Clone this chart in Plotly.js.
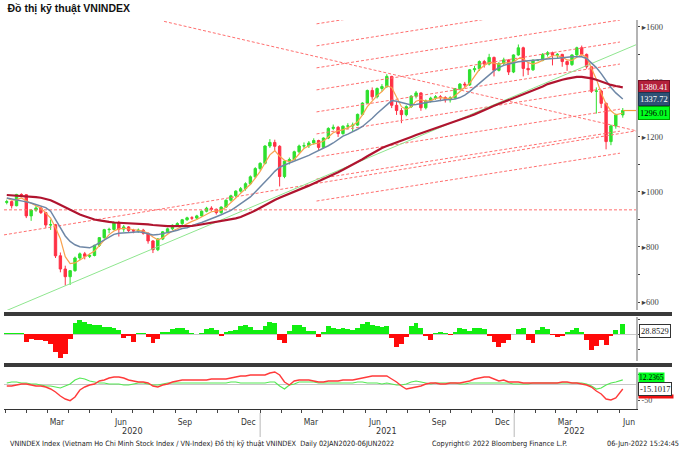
<!DOCTYPE html>
<html><head><meta charset="utf-8">
<script src="https://cdn.plot.ly/plotly-3.0.1.min.js"></script>
<style>html,body{margin:0;padding:0;background:#fff}#c{width:686px;height:456px}</style>
</head><body><div id="c"></div>
<script>
// ---- weekly sample dates (last = 06JUN2022) ----
const dates = [
'2020-01-03','2020-01-10','2020-01-17','2020-01-24','2020-01-31','2020-02-07','2020-02-14','2020-02-21','2020-02-28','2020-03-06',
'2020-03-13','2020-03-20','2020-03-27','2020-04-03','2020-04-10','2020-04-17','2020-04-24','2020-05-01','2020-05-08','2020-05-15',
'2020-05-22','2020-05-29','2020-06-05','2020-06-12','2020-06-19','2020-06-26','2020-07-03','2020-07-10','2020-07-17','2020-07-24',
'2020-07-31','2020-08-07','2020-08-14','2020-08-21','2020-08-28','2020-09-04','2020-09-11','2020-09-18','2020-09-25','2020-10-02',
'2020-10-09','2020-10-16','2020-10-23','2020-10-30','2020-11-06','2020-11-13','2020-11-20','2020-11-27','2020-12-04','2020-12-11',
'2020-12-18','2020-12-25','2021-01-01','2021-01-08','2021-01-15','2021-01-22','2021-01-29','2021-02-05','2021-02-12','2021-02-19',
'2021-02-26','2021-03-05','2021-03-12','2021-03-19','2021-03-26','2021-04-02','2021-04-09','2021-04-16','2021-04-23','2021-04-30',
'2021-05-07','2021-05-14','2021-05-21','2021-05-28','2021-06-04','2021-06-11','2021-06-18','2021-06-25','2021-07-02','2021-07-09',
'2021-07-16','2021-07-23','2021-07-30','2021-08-06','2021-08-13','2021-08-20','2021-08-27','2021-09-03','2021-09-10','2021-09-17',
'2021-09-24','2021-10-01','2021-10-08','2021-10-15','2021-10-22','2021-10-29','2021-11-05','2021-11-12','2021-11-19','2021-11-26',
'2021-12-03','2021-12-10','2021-12-17','2021-12-24','2021-12-31','2022-01-07','2022-01-14','2022-01-21','2022-01-28','2022-02-04',
'2022-02-11','2022-02-18','2022-02-25','2022-03-04','2022-03-11','2022-03-18','2022-03-25','2022-04-01','2022-04-08','2022-04-15',
'2022-04-22','2022-04-29','2022-05-06','2022-05-13','2022-05-20','2022-05-27','2022-06-06'];

const openP = [
962,965,950,991,990,913,934,942,925,880, 881,768,720,692,714,760,775,766,769,806,
834,863,864,887,865,873,860,858,861,850, 822,790,829,855,866,879,885,899,906,905,
913,930,941,937,925,945,970,986,1003,1012, 1030,1055,1085,1104,1167,1180,1166,1056,1112,1118,
1146,1167,1168,1178,1187,1162,1196,1231,1235,1212, 1239,1240,1243,1282,1323,1369,1346,1376,1383,1420,
1315,1296,1281,1310,1348,1360,1306,1331,1341,1346, 1343,1335,1342,1375,1392,1389,1444,1448,1474,1465,
1489,1442,1467,1480,1436,1498,1524,1449,1444,1479, 1479,1500,1506,1497,1500,1474,1463,1498,1524,1500,
1455,1366,1367,1322,1183,1240,1280];
const highP = [
972,968,993,995,992,938,950,947,928,900, 884,780,732,716,765,780,782,776,808,836,
866,870,893,895,880,876,866,867,866,853, 825,832,858,870,882,890,902,910,912,917,
933,946,948,940,948,973,990,1006,1018,1035, 1060,1090,1108,1170,1192,1190,1170,1116,1125,1150,
1172,1180,1185,1195,1190,1198,1235,1245,1240,1242, 1250,1252,1285,1326,1372,1380,1380,1392,1428,1422,
1330,1305,1315,1352,1367,1362,1336,1346,1352,1352, 1348,1348,1378,1396,1400,1447,1458,1478,1480,1502,
1492,1472,1488,1482,1500,1536,1528,1470,1482,1483, 1505,1512,1510,1505,1502,1478,1500,1528,1532,1503,
1458,1380,1372,1325,1245,1285,1305];
const lowP = [
955,940,948,982,905,895,928,920,870,862, 760,708,660,662,710,752,755,760,766,800,
830,850,860,838,855,852,850,852,845,812, 778,785,825,850,862,875,880,895,898,900,
910,926,930,918,920,942,965,980,998,1005, 1025,1050,1078,1100,1160,1150,1020,1050,1100,1115,
1140,1158,1160,1172,1150,1158,1192,1225,1200,1208, 1228,1218,1240,1278,1320,1335,1340,1365,1378,1305,
1280,1250,1275,1305,1340,1295,1300,1325,1335,1330, 1325,1325,1338,1370,1380,1385,1435,1440,1452,1460,
1420,1438,1460,1425,1432,1495,1420,1425,1440,1475, 1475,1492,1460,1485,1455,1440,1458,1495,1495,1448,
1360,1285,1305,1155,1170,1230,1270];
const closeP = [
965,950,991,990,913,934,942,925,880,881, 768,720,692,714,760,775,766,769,806,834,
863,864,887,865,873,860,858,861,850,822, 790,829,855,866,879,885,899,906,905,913,
930,941,937,925,945,970,986,1003,1012,1030, 1055,1085,1104,1167,1180,1166,1056,1112,1118,1146,
1167,1168,1178,1187,1162,1196,1231,1235,1212,1239, 1240,1243,1282,1323,1369,1346,1376,1383,1420,1315,
1296,1281,1310,1348,1360,1306,1331,1341,1346,1343, 1335,1342,1375,1392,1389,1444,1448,1474,1465,1489,
1442,1467,1480,1436,1498,1524,1449,1444,1479,1479, 1500,1506,1497,1500,1474,1463,1498,1524,1500,1455,
1366,1367,1322,1183,1240,1280,1296.01];

// moving averages
const maLong = [
989,988,987,986,985,983,981,979,975,970, 962,953,943,935,926,918,912,906,900,897,
893,891,889,888,888,888,887,886,884,882, 880,878,877,876,876,876,876,876,877,879,
882,885,887,890,893,896,899,904,909,916, 924,933,943,952,962,971,979,986,993,1000,
1007,1015,1023,1031,1039,1047,1054,1063,1072,1081, 1090,1099,1108,1119,1130,1141,1150,1160,1167,1173,
1180,1187,1194,1200,1207,1213,1219,1225,1231,1237, 1244,1250,1256,1262,1268,1275,1282,1289,1297,1305,
1313,1320,1327,1334,1340,1347,1355,1362,1370,1376, 1383,1392,1398,1403,1408,1412,1415,1418,1418,1416,
1413,1408,1402,1394,1389,1385,1380.41];
const maMid = [
978,975,972,969,964,960,955,950,943,930, 900,868,840,820,808,801,798,797,805,815,
828,838,846,850,852,852,854,855,853,848, 844,845,848,851,856,861,867,870,878,884,
889,897,904,910,917,925,933,945,958,970, 982,1000,1018,1035,1055,1075,1090,1098,1105,1112,
1118,1126,1133,1142,1150,1158,1168,1178,1190,1203, 1210,1218,1228,1238,1252,1268,1285,1300,1318,1332,
1330,1325,1320,1316,1318,1322,1326,1328,1330,1333, 1335,1336,1338,1343,1352,1365,1380,1395,1412,1428,
1440,1452,1460,1465,1470,1473,1475,1477,1479,1480, 1481,1483,1485,1486,1488,1490,1491,1491,1491,1485,
1470,1452,1430,1405,1380,1360,1337.72];
const maShort = [
978,970,972,978,968,958,950,942,925,905, 870,830,765,740,742,752,765,772,785,805,
825,845,858,866,868,866,862,860,858,850, 836,826,833,846,858,866,875,886,893,900,
910,920,928,930,933,945,960,978,995,1010, 1028,1050,1075,1105,1135,1150,1130,1115,1110,1118,
1140,1158,1168,1175,1178,1185,1200,1215,1222,1226, 1234,1242,1255,1280,1310,1332,1350,1365,1385,1380,
1345,1310,1300,1310,1330,1335,1330,1332,1340,1343, 1341,1340,1350,1365,1378,1395,1420,1445,1460,1470,
1468,1465,1468,1470,1472,1485,1485,1470,1465,1470, 1478,1488,1495,1495,1490,1480,1478,1490,1500,1490,
1450,1410,1360,1320,1295,1280,1287];

// lower panel 1: histogram oscillator
const histVals = [
3,4,4,2,-24,-15,-18,-17,-20,-30, -54,-72,-60,-15,33,42,36,30,27,27,
21,21,18,12,-12,-6,-24,3,3,-9, -27,-15,6,6,15,18,18,12,3,1,
3,15,18,12,-6,6,9,12,24,27, 21,12,12,24,36,33,-18,-27,9,27,
27,21,9,9,-9,6,24,18,15,18, 15,12,18,30,36,27,24,21,24,-12,
-39,-30,-9,24,33,18,-6,-18,3,6, 3,-3,6,18,15,9,18,18,15,-6,
-24,-39,-27,-18,0,15,18,-18,-27,12, 21,15,-3,-9,-6,6,12,18,6,-18,
-48,-36,-18,-33,-6,12,28.8529];

// lower panel 2: two oscillator lines
const oscRed = [
-6,-6,-3,0,0,-3,-6,-6,-9,-15, -24,-36,-45,-50,-39,-18,-9,-3,0,9,
12,18,21,21,18,12,9,6,6,3, -6,-9,-3,0,6,9,12,12,12,12,
12,12,15,15,15,15,18,21,24,24, 27,27,27,27,33,36,27,6,-3,9,
12,12,12,9,6,6,9,9,9,12, 12,12,15,18,21,24,24,24,24,15,
6,-6,-15,-12,-9,-6,0,3,3,0, 0,3,3,3,6,9,15,18,21,21,
15,9,12,6,6,6,3,3,3,3, 3,3,3,3,6,6,3,3,0,-3,
-9,-21,-30,-45,-48,-42,-15.1017];
const oscGreen = [
3,6,6,3,3,0,0,-3,-6,-6, -9,-12,-6,0,12,18,15,9,6,3,
3,0,0,0,-3,-3,0,3,3,0, -3,-3,0,3,3,3,3,3,3,3,
3,3,3,3,3,3,6,6,3,3, 3,3,3,3,6,6,-6,-15,-3,0,
6,6,6,6,3,3,3,3,3,3, 3,3,6,6,3,3,3,0,3,0,
-3,-3,0,6,9,6,3,0,3,3, 3,3,3,0,0,3,3,3,3,3,
3,3,3,3,0,0,0,0,3,3, 3,3,3,3,3,3,3,3,3,0,
-6,-15,-12,-3,3,6,12.2365];

// trend lines drawn on the chart (date, value pairs)
const channelStart = '2021-03-23', channelEnd = '2022-06-02';
const channelStartVals = [1611,1531,1451,1371,1291,1211,1127,1047,967];
const channelEndVals   = [1785,1705,1625,1545,1465,1385,1301,1221,1141];
const fallLine  = {x:['2020-08-16','2022-06-26'], y:[1620,1222]};
const riseLine  = {x:['2019-12-30','2022-06-25'], y:[844,1222]};
const flatLine  = {x:['2019-12-30','2022-06-25'], y:[935,935]};
const greenLine = {x:['2019-12-30','2022-06-25'], y:[565,1535]};

// axes labels
const xTickVals = ['2020-03-15','2020-06-15','2020-09-15','2020-12-15','2021-03-15','2021-06-15','2021-09-15','2021-12-15','2022-03-15','2022-06-15'];
const xTickText = ['Mar','Jun','Sep','Dec','Mar','Jun','Sep','Dec','Mar','Jun'];
const yearLabels = ['2020','2021','2022'];
const yearPos = ['2020-07-01','2021-07-01','2022-03-28'];
const yearBreaks = ['2021-01-01','2022-01-01'];
const yTickVals = [600,700,800,900,1000,1100,1200,1300,1400,1500,1600];
const yTickText = ['▸600','','▸800','','▸1000','','▸1200','','▸1400','','▸1600'];
const xRange = ['2019-12-30','2022-06-25'];

const RED='#ff6f6f', dashS='3px,2px';
const NARROW="'Liberation Sans Narrow','DejaVu Sans Condensed','Arial Narrow',sans-serif";
const SERIF="'Liberation Serif','DejaVu Serif',serif";

const traces = [];
for (let i=0;i<channelStartVals.length;i++){
  traces.push({type:'scatter',mode:'lines',x:[channelStart,channelEnd],y:[channelStartVals[i],channelEndVals[i]],
    line:{color:RED,width:1,dash:dashS},hoverinfo:'skip',xaxis:'x',yaxis:'y'});
}
[fallLine,riseLine,flatLine].forEach(l=>traces.push({type:'scatter',mode:'lines',x:l.x,y:l.y,
  line:{color:RED,width:1,dash:dashS},hoverinfo:'skip',xaxis:'x',yaxis:'y'}));
traces.push({type:'scatter',mode:'lines',x:greenLine.x,y:greenLine.y,line:{color:'#8fe68f',width:1},hoverinfo:'skip'});

traces.push({type:'candlestick',x:dates,open:openP,high:highP,low:lowP,close:closeP,
  increasing:{line:{color:'#2ee02e',width:1},fillcolor:'#2ee02e'},
  decreasing:{line:{color:'#ff3045',width:1},fillcolor:'#ff3045'},
  whiskerwidth:0,hoverinfo:'skip',xaxis:'x',yaxis:'y'});

traces.push({type:'scatter',mode:'lines',x:dates,y:maShort,line:{color:'#f9a24e',width:1.2},hoverinfo:'skip'});
traces.push({type:'scatter',mode:'lines',x:dates,y:maMid,line:{color:'#6e87a6',width:1.5},hoverinfo:'skip'});
traces.push({type:'scatter',mode:'lines',x:dates,y:maLong,line:{color:'#b0142f',width:2.2},hoverinfo:'skip'});
const lastDate = dates[dates.length-1], lastClose = closeP[closeP.length-1];
traces.push({type:'scatter',mode:'lines',x:[lastDate,xRange[1]],y:[lastClose,lastClose],line:{color:'#f59a3a',width:1.2},hoverinfo:'skip'});

traces.push({type:'bar',x:dates,y:histVals,marker:{color:histVals.map(v=>v>=0?'#11ee11':'#ff0a0a'),line:{width:0}},
  xaxis:'x',yaxis:'y2',hoverinfo:'skip'});

traces.push({type:'scatter',mode:'lines',x:dates,y:oscGreen,line:{color:'#55e855',width:1.2},xaxis:'x',yaxis:'y3',hoverinfo:'skip'});
traces.push({type:'scatter',mode:'lines',x:dates,y:oscRed,line:{color:'#ff3a3a',width:1.4},xaxis:'x',yaxis:'y3',hoverinfo:'skip'});

// pixel helpers for paper coords (plot area y:20..409, x:4..636)
const py = p => (409-p)/389;
const px = p => (p-4)/632;

const shapes = [
  {type:'rect',xref:'paper',yref:'paper',x0:0,x1:px(672),y0:py(316),y1:py(312),fillcolor:'#3a3a3a',line:{width:0}},
  {type:'rect',xref:'paper',yref:'paper',x0:0,x1:px(672),y0:py(367),y1:py(363),fillcolor:'#3a3a3a',line:{width:0}},
];
yearBreaks.forEach(d=>shapes.push({type:'line',xref:'x',yref:'paper',x0:d,x1:d,y0:py(413),y1:py(437),line:{color:'#b8b8b8',width:1}}));

const annotations = [];
yearLabels.forEach((t,i)=>annotations.push({xref:'x',yref:'paper',x:yearPos[i],y:py(431),yanchor:'middle',text:t,showarrow:false,
  font:{family:NARROW,size:9,color:'#333'}}));
const boxFont = c=>({family:SERIF,size:8.5,color:c});
annotations.push({xref:'paper',yref:'y',x:px(638),xanchor:'left',y:maLong[maLong.length-1],text:maLong[maLong.length-1].toFixed(2),
  showarrow:false,bgcolor:'#b3203b',bordercolor:'#7a1025',borderwidth:1,borderpad:1,font:boxFont('#fff')});
annotations.push({xref:'paper',yref:'y',x:px(638),xanchor:'left',y:maMid[maMid.length-1],text:maMid[maMid.length-1].toFixed(2),
  showarrow:false,bgcolor:'#2d5175',bordercolor:'#1c3550',borderwidth:1,borderpad:1,font:boxFont('#fff')});
annotations.push({xref:'paper',yref:'y',x:px(638),xanchor:'left',y:lastClose,yshift:-2,text:lastClose.toFixed(2),
  showarrow:false,bgcolor:'#00ff1e',bordercolor:'#00a000',borderwidth:1,borderpad:1,font:boxFont('#000')});
annotations.push({xref:'paper',yref:'y2',x:px(639),xanchor:'left',y:histVals[histVals.length-1],yshift:-7,text:histVals[histVals.length-1].toFixed(4),
  showarrow:false,bgcolor:'#fff',bordercolor:'#333',borderwidth:1,borderpad:1,font:boxFont('#222')});
annotations.push({xref:'paper',yref:'y3',x:px(638),xanchor:'left',y:oscGreen[oscGreen.length-1],yshift:2,text:oscGreen[oscGreen.length-1].toFixed(4),
  showarrow:false,bgcolor:'#00ff1e',borderpad:0,font:{family:SERIF,size:7.5,color:'#000'}});
annotations.push({xref:'paper',yref:'y3',x:px(638),xanchor:'left',y:-38,text:' ',width:34,height:3,
  showarrow:false,bgcolor:'#ee1111',borderpad:0,font:{size:3}});
annotations.push({xref:'paper',yref:'y3',x:px(638),xanchor:'left',y:oscRed[oscRed.length-1],text:oscRed[oscRed.length-1].toFixed(4),
  showarrow:false,bgcolor:'#fff',bordercolor:'#333',borderwidth:1,borderpad:1,font:boxFont('#222')});
annotations.push({xref:'paper',yref:'paper',x:px(8),xanchor:'left',y:py(443),yanchor:'middle',text:'VNINDEX Index (Vietnam Ho Chi Minh Stock Index / VN-Index) Đồ thị kỹ thuật VNINDEX  Daily 02JAN2020-06JUN2022',
  showarrow:false,font:{family:NARROW,size:7.3,color:'#222'}});
annotations.push({xref:'paper',yref:'paper',x:px(430),xanchor:'left',y:py(443),yanchor:'middle',text:'Copyright© 2022 Bloomberg Finance L.P.',
  showarrow:false,font:{family:NARROW,size:7.3,color:'#222'}});
annotations.push({xref:'paper',yref:'paper',x:px(681),xanchor:'right',y:py(443),yanchor:'middle',text:'06-Jun-2022 15:24:45',
  showarrow:false,font:{family:NARROW,size:7.3,color:'#222'}});

const yCommon = {side:'right',anchor:'x',showgrid:false,showline:true,linecolor:'#b4b4b4',linewidth:2,fixedrange:true};

const layout = {
  width:686,height:456,margin:{l:4,r:50,t:20,b:47},
  paper_bgcolor:'#fff',plot_bgcolor:'#fff',showlegend:false,
  title:{text:'<b>Đồ thị kỹ thuật VNINDEX</b>',xref:'container',yref:'container',x:0.011,xanchor:'left',y:0.981,yanchor:'middle',
    font:{family:"'Liberation Sans',Arial,sans-serif",size:10.5,color:'#111'}},
  xaxis:{type:'date',domain:[0,1],anchor:'y3',range:xRange,rangeslider:{visible:false},showgrid:false,
    showline:true,linecolor:'#333',linewidth:1,tickmode:'array',tickvals:xTickVals,ticktext:xTickText,ticks:'',
    ticklabelstandoff:5,
    tickfont:{family:NARROW,size:8.5,color:'#333'},
    minor:{tickmode:'linear',tick0:'2020-01-01',dtick:'M1',ticks:'outside',ticklen:3,tickcolor:'#444',showgrid:false}},
  yaxis:Object.assign({},yCommon,{domain:[py(310),1],range:[571,1625],tickmode:'array',tickvals:yTickVals,ticktext:yTickText,
    ticks:'outside',ticklen:2,tickcolor:'#444',zeroline:false,tickfont:{family:SERIF,size:8.5,color:'#444'}}),
  yaxis2:Object.assign({},yCommon,{domain:[py(361),py(317)],range:[-81,51],tickmode:'array',tickvals:[-45,0,45],ticktext:['','',''],
    ticks:'outside',ticklen:2,tickcolor:'#444',zeroline:true,zerolinecolor:'#c8c8c8',zerolinewidth:1}),
  yaxis3:Object.assign({},yCommon,{domain:[0,py(368)],range:[-75,48],tickmode:'array',tickvals:[-50,0,30],ticktext:['-50','',''],
    ticks:'outside',ticklen:2,tickcolor:'#444',zeroline:true,zerolinecolor:'#c8c8c8',zerolinewidth:1,
    tickfont:{family:SERIF,size:8,color:'#444'}}),
  bargap:0,
  shapes:shapes,annotations:annotations
};
Plotly.newPlot('c',traces,layout,{staticPlot:true,displayModeBar:false});
</script></body></html>
